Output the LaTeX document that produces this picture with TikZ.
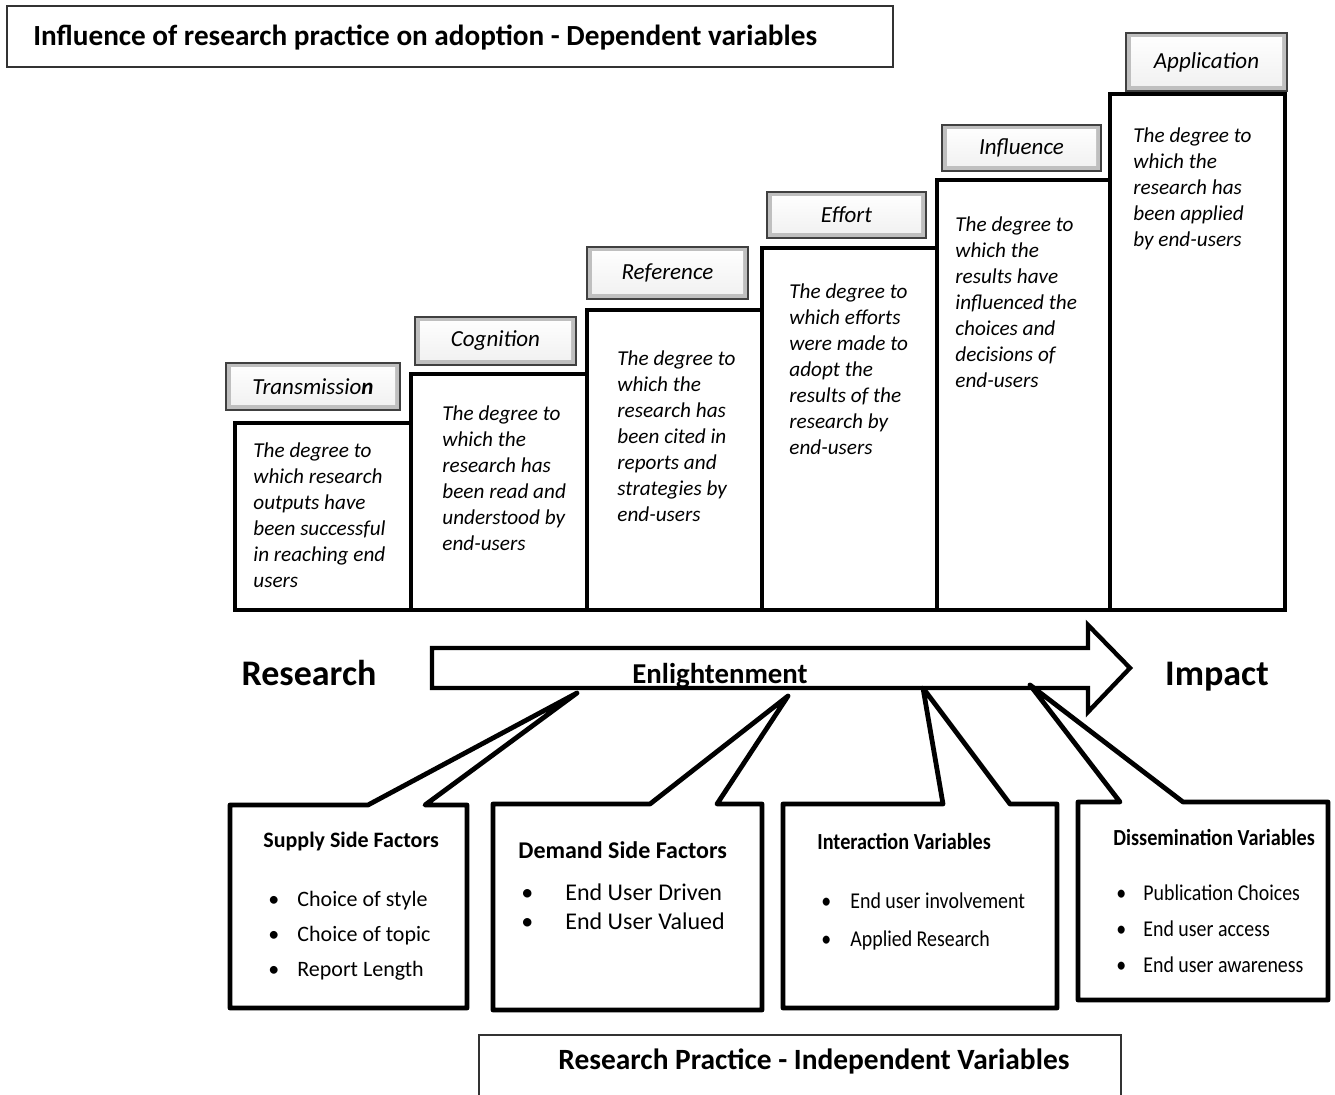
\documentclass[tikz,border=0pt]{standalone}
\usepackage{fontspec}
\setmainfont{Carlito}
\newfontfamily\narrowfont[FakeStretch=0.88]{Carlito}
\usetikzlibrary{positioning}

\newcommand{\bitem}[2]{\makebox[#1][l]{\textbullet}#2}

\begin{document}
\begin{tikzpicture}[
  x=0.5pt, y=-0.5pt,
  stair/.style={draw,line width=2.2pt,anchor=north west,inner sep=0pt,outer sep=0pt},
  desc/.style={anchor=north west,align=left,inner sep=0pt,font=\itshape\fontsize{10.6}{13}\selectfont},
  tag/.style={draw=black!75,line width=0.6pt,fill=gray!50,inner sep=0pt,font=\itshape\fontsize{11.5}{13}\selectfont,
    path picture={\shade[top color=white,bottom color=gray!12] ([shift={(2.5pt,-2.5pt)}]path picture bounding box.north west) rectangle ([shift={(-2.5pt,2.5pt)}]path picture bounding box.south east);}},
  frame/.style={draw=black!80,line width=0.8pt,anchor=north west,inner sep=0pt,outer sep=0pt},
  spot/.style={anchor=north west,inner sep=0pt,outer sep=0pt},
  callout/.style={draw,line width=2.4pt,line join=round,fill=white},
  flow/.style={draw,line width=2.2pt,line join=miter},
  heading/.style={anchor=west,inner sep=0pt,font=\bfseries\fontsize{12}{14}\selectfont},
  big/.style={anchor=base,inner sep=0pt,font=\bfseries\fontsize{18}{20}\selectfont},
  items/.style={anchor=north west,align=left,inner sep=0pt}
]
\useasboundingbox (0,0) rectangle (1335,1095);

% dependent variables
\node[frame,minimum width=443pt,minimum height=30.5pt] (top) at (7,6) {};
\node[heading,font=\bfseries\fontsize{14.6}{16}\selectfont] (toptext) at (33,38) {Influence of research practice on adoption - Dependent variables};

\node[stair,minimum width=88pt,minimum height=93.5pt] (s1) at (235,423) {};
\node[stair,minimum width=88pt,minimum height=118pt] (s2) at (411,374) {};
\node[stair,minimum width=87.5pt,minimum height=150pt] (s3) at (587,310) {};
\node[stair,minimum width=87.5pt,minimum height=181pt] (s4) at (762,248) {};
\node[stair,minimum width=86.5pt,minimum height=215pt] (s5) at (937,180) {};
\node[stair,minimum width=87.5pt,minimum height=258pt] (s6) at (1110,94) {};

\node[desc] (d1) at (253,442) {The degree to\\which research\\outputs have\\been successful\\in reaching end\\users};
\node[desc] (d2) at (442,405) {The degree to\\which the\\research has\\been read and\\understood by\\end-users};
\node[desc] (d3) at (617,350) {The degree to\\which the\\research has\\been cited in\\reports and\\strategies by\\end-users};
\node[desc] (d4) at (789,283) {The degree to\\which efforts\\were made to\\adopt the\\results of the\\research by\\end-users};
\node[desc] (d5) at (955,216) {The degree to\\which the\\results have\\influenced the\\choices and\\decisions of\\end-users};
\node[desc] (d6) at (1133,127) {The degree to\\which the\\research has\\been applied\\by end-users};

\node[tag,minimum width=87pt,minimum height=23.5pt] (l1) at (313,386.5) {Transmissio\textbf{n}};
\node[tag,minimum width=80.5pt,minimum height=24pt] (l2) at (495.5,341) {Cognition};
\node[tag,minimum width=80.5pt,minimum height=26pt] (l3) at (667.5,273) {Reference};
\node[tag,minimum width=79.5pt,minimum height=23pt] (l4) at (846.5,215) {Effort};
\node[tag,minimum width=79.5pt,minimum height=23pt] (l5) at (1021.5,148) {Influence};
\node[tag,minimum width=80.5pt,minimum height=29pt] (l6) at (1206.5,62) {Application};

% research -> impact
\node[big] (research) at (309,686) {Research};
\node[big] (impact) at (1217,686) {Impact};
\node[inner sep=0pt,font=\bfseries\fontsize{14.4}{16}\selectfont] (enl) at (720,676) {Enlightenment};
\path[flow] (432,648) -- (1088,648) -- (1088,625) -- (1130,668) -- (1088,712) -- (1088,688) -- (432,688) -- cycle;

\coordinate (t1) at (577,693);
\coordinate (t2) at (788,696);
\coordinate (t3) at (923,688);
\coordinate (t4) at (1030,685);

% independent variables
\node[spot,minimum width=118.5pt,minimum height=101.5pt] (sup) at (230,805) {};
\node[spot,minimum width=134.5pt,minimum height=103pt] (dem) at (493,804) {};
\node[spot,minimum width=137pt,minimum height=102pt] (int) at (783,804) {};
\node[spot,minimum width=125pt,minimum height=99pt] (dis) at (1078,802) {};

\path[callout] (sup.north west) -- (368,805) -- (t1) -- (425,805) -- (sup.north east) -- (sup.south east) -- (sup.south west) -- cycle;
\path[callout] (dem.north west) -- (650,804) -- (t2) -- (717,804) -- (dem.north east) -- (dem.south east) -- (dem.south west) -- cycle;
\path[callout] (int.north west) -- (943,804) -- (t3) -- (1010,804) -- (int.north east) -- (int.south east) -- (int.south west) -- cycle;
\path[callout] (dis.north west) -- (1120,802) -- (t4) -- (1183,802) -- (dis.north east) -- (dis.south east) -- (dis.south west) -- cycle;

\node[heading,font=\bfseries\fontsize{11}{13}\selectfont] (suph) at (263,842) {Supply Side Factors};
\node[items,font=\fontsize{11}{17.5}\selectfont] (supl) at (268,891) {\bitem{14.5pt}{Choice of style}\\\bitem{14.5pt}{Choice of topic}\\\bitem{14.5pt}{Report Length}};

\node[heading] (demh) at (518,850) {Demand Side Factors};
\node[items,font=\fontsize{12}{14.75}\selectfont] (deml) at (521,883) {\bitem{22pt}{End User Driven}\\\bitem{22pt}{End User Valued}};

\node[heading,font=\narrowfont\bfseries\fontsize{11.5}{13}\selectfont] (inth) at (817,842) {Interaction Variables};
\node[items,font=\narrowfont\fontsize{11.3}{19}\selectfont] (intl) at (821,892) {\bitem{14.5pt}{End user involvement}\\\bitem{14.5pt}{Applied Research}};

\node[heading,font=\narrowfont\bfseries\fontsize{11.5}{13}\selectfont] (dish) at (1113,838) {Dissemination Variables};
\node[items,font=\narrowfont\fontsize{11.3}{18}\selectfont] (disl) at (1116,884) {\bitem{13.5pt}{Publication Choices}\\\bitem{13.5pt}{End user access}\\\bitem{13.5pt}{End user awareness}};

\node[frame,minimum width=321pt,minimum height=40pt] (bottom) at (479,1035) {};
\node[inner sep=0pt,font=\bfseries\fontsize{14.7}{16}\selectfont] (bottomtext) at (814,1061) {Research Practice - Independent Variables};
\end{tikzpicture}
\end{document}
